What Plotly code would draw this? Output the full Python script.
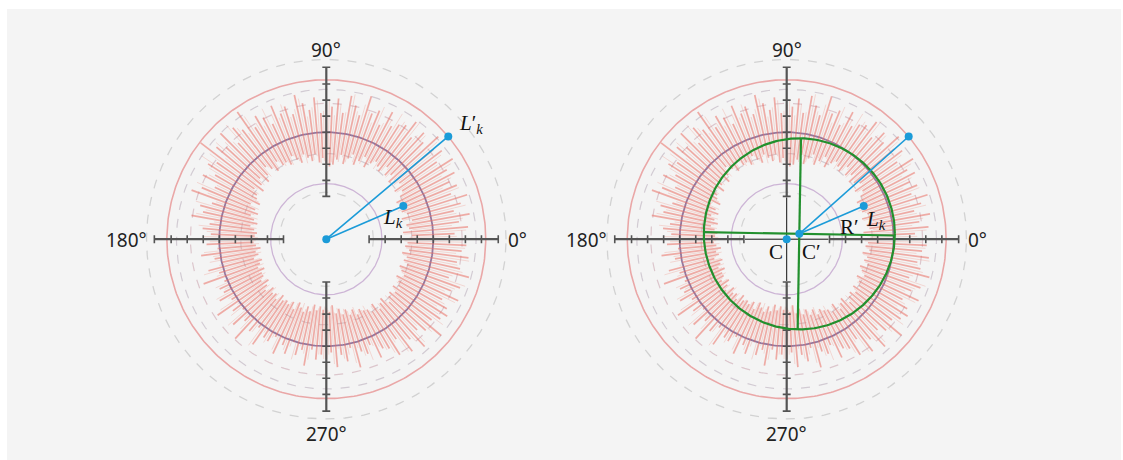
import numpy as np
import plotly.graph_objects as go

# ---------------- data (units: radius of the main purple circle = 1) ----------------
spike_angles_deg = [i * 2.5 for i in range(144)]
spike_outer = [
    1.28, 1.20, 1.33, 1.25, 1.36, 1.22, 1.30, 1.38, 1.24, 1.32, 1.27, 1.35,
    1.30, 1.40, 1.26, 1.36, 1.31, 1.42, 1.28, 1.35, 1.24, 1.38, 1.30, 1.27,
    1.22, 1.34, 1.18, 1.30, 1.25, 1.40, 1.20, 1.28, 1.36, 1.19, 1.32, 1.24,
    1.26, 1.18, 1.33, 1.22, 1.29, 1.38, 1.21, 1.30, 1.25, 1.35, 1.19, 1.28,
    1.33, 1.24, 1.45, 1.29, 1.36, 1.22, 1.40, 1.27, 1.34, 1.48, 1.25, 1.31,
    1.20, 1.30, 1.15, 1.26, 1.34, 1.12, 1.22, 1.18, 1.28, 1.10, 1.16, 1.08,
    1.04, 1.12, 1.02, 1.18, 1.06, 1.00, 1.14, 1.05, 1.22, 1.03, 1.10, 1.08,
    1.15, 1.05, 1.24, 1.10, 1.02, 1.18, 1.08, 1.26, 1.12, 1.04, 1.20, 1.09,
    1.10, 1.03, 1.18, 1.07, 1.14, 1.01, 1.12, 1.06, 1.20, 1.04, 1.13, 1.08,
    1.12, 1.06, 1.20, 1.09, 1.16, 1.04, 1.24, 1.10, 1.14, 1.07, 1.22, 1.15,
    1.18, 1.28, 1.14, 1.32, 1.22, 1.36, 1.20, 1.26, 1.40, 1.24, 1.30, 1.34,
    1.30, 1.22, 1.36, 1.26, 1.33, 1.20, 1.38, 1.28, 1.24, 1.34, 1.27, 1.31,
]
spike_inner = [
    0.74, 0.80, 0.72, 0.78, 0.76, 0.82, 0.73, 0.79, 0.75, 0.81, 0.77, 0.74,
    0.80, 0.84, 0.78, 0.86, 0.82, 0.79, 0.85, 0.81, 0.88, 0.80, 0.83, 0.86,
    0.82, 0.76, 0.85, 0.79, 0.74, 0.83, 0.78, 0.72, 0.80, 0.75, 0.70, 0.68,
    0.70, 0.76, 0.72, 0.80, 0.74, 0.78, 0.82, 0.75, 0.79, 0.84, 0.77, 0.81,
    0.80, 0.86, 0.78, 0.83, 0.88, 0.81, 0.76, 0.84, 0.79, 0.74, 0.82, 0.77,
    0.75, 0.70, 0.78, 0.72, 0.68, 0.74, 0.70, 0.66, 0.72, 0.68, 0.65, 0.67,
    0.64, 0.68, 0.66, 0.62, 0.67, 0.65, 0.70, 0.63, 0.66, 0.69, 0.64, 0.68,
    0.68, 0.72, 0.66, 0.70, 0.74, 0.67, 0.71, 0.69, 0.73, 0.66, 0.70, 0.68,
    0.70, 0.66, 0.72, 0.64, 0.68, 0.71, 0.65, 0.69, 0.62, 0.67, 0.63, 0.66,
    0.64, 0.68, 0.62, 0.70, 0.66, 0.72, 0.68, 0.74, 0.70, 0.76, 0.72, 0.75,
    0.76, 0.80, 0.74, 0.82, 0.78, 0.75, 0.83, 0.79, 0.77, 0.81, 0.76, 0.80,
    0.78, 0.74, 0.80, 0.76, 0.73, 0.79, 0.75, 0.77, 0.72, 0.78, 0.74, 0.76,
]
# fainter in-between spikes
spike2_angles_deg = [1.25 + i * 2.5 for i in range(144)]
spike2_outer = [
    1.22, 1.31, 1.18, 1.29, 1.24, 1.34, 1.20, 1.27, 1.33, 1.19, 1.30, 1.23,
    1.36, 1.25, 1.33, 1.28, 1.38, 1.22, 1.34, 1.29, 1.41, 1.26, 1.32, 1.37,
    1.28, 1.21, 1.35, 1.17, 1.26, 1.31, 1.23, 1.38, 1.20, 1.27, 1.16, 1.30,
    1.20, 1.30, 1.24, 1.16, 1.34, 1.25, 1.19, 1.33, 1.22, 1.28, 1.36, 1.21,
    1.27, 1.38, 1.23, 1.33, 1.42, 1.26, 1.31, 1.37, 1.21, 1.35, 1.40, 1.28,
    1.25, 1.14, 1.32, 1.19, 1.09, 1.27, 1.16, 1.24, 1.06, 1.20, 1.12, 1.15,
    1.09, 1.01, 1.15, 1.07, 1.11, 1.03, 1.19, 1.08, 1.00, 1.13, 1.06, 1.17,
    1.07, 1.19, 1.03, 1.14, 1.22, 1.06, 1.16, 1.01, 1.11, 1.23, 1.05, 1.13,
    1.05, 1.15, 1.02, 1.11, 1.06, 1.17, 1.03, 1.09, 1.14, 1.00, 1.08, 1.12,
    1.08, 1.17, 1.03, 1.13, 1.10, 1.19, 1.06, 1.15, 1.21, 1.09, 1.12, 1.18,
    1.24, 1.16, 1.30, 1.20, 1.27, 1.33, 1.17, 1.31, 1.23, 1.35, 1.26, 1.21,
    1.26, 1.34, 1.21, 1.29, 1.37, 1.23, 1.31, 1.25, 1.35, 1.22, 1.30, 1.27,
]
spike2_inner = [
    0.78, 0.73, 0.81, 0.76, 0.79, 0.74, 0.82, 0.77, 0.72, 0.80, 0.75, 0.79,
    0.83, 0.79, 0.87, 0.81, 0.84, 0.88, 0.80, 0.86, 0.82, 0.85, 0.79, 0.84,
    0.79, 0.84, 0.77, 0.81, 0.76, 0.80, 0.74, 0.78, 0.73, 0.77, 0.72, 0.70,
    0.73, 0.71, 0.78, 0.75, 0.79, 0.73, 0.80, 0.77, 0.83, 0.76, 0.80, 0.78,
    0.84, 0.79, 0.82, 0.86, 0.78, 0.83, 0.80, 0.77, 0.85, 0.79, 0.76, 0.80,
    0.72, 0.77, 0.69, 0.75, 0.71, 0.67, 0.73, 0.69, 0.66, 0.70, 0.67, 0.64,
    0.66, 0.63, 0.69, 0.65, 0.62, 0.68, 0.64, 0.67, 0.63, 0.66, 0.70, 0.65,
    0.70, 0.67, 0.73, 0.68, 0.71, 0.65, 0.72, 0.67, 0.70, 0.74, 0.68, 0.71,
    0.67, 0.71, 0.65, 0.69, 0.63, 0.68, 0.70, 0.64, 0.67, 0.65, 0.69, 0.63,
    0.66, 0.63, 0.69, 0.65, 0.71, 0.67, 0.70, 0.72, 0.68, 0.73, 0.74, 0.71,
    0.78, 0.75, 0.80, 0.77, 0.81, 0.79, 0.76, 0.82, 0.80, 0.78, 0.83, 0.77,
    0.75, 0.79, 0.77, 0.74, 0.80, 0.76, 0.78, 0.73, 0.79, 0.75, 0.77, 0.73,
]

# reference circles: radius, colour, dash, width
circle_radii = [1.68, 1.49, 1.40, 1.27, 1.00, 0.80, 0.52, 0.44]
circle_colors = ["#d2d2d2", "#eaa7a7", "#d2cbd3", "#dcc6cc", "#8877a4", "#d3cdd3", "#cdb5d6", "#d3d3d3"]
circle_dashes = ["dash", "solid", "dash", "dash", "solid", "dash", "solid", "dash"]
circle_widths = [1.3, 1.6, 1.2, 1.2, 1.8, 1.2, 1.3, 1.2]

axis_ticks_r = [0.40, 0.55, 0.70, 0.85, 1.00, 1.15, 1.30, 1.45, 1.607]
axis_r_min, axis_r_max = 0.40, 1.607
tick_half = 0.037

# blue points (x, y) relative to centre C
pt_Lk = (0.72, 0.31)
pt_Lpk = (1.14, 0.96)
# right panel: shifted centre C' and fitted circle radius R'
c_prime = (0.118, 0.050)
r_prime = 0.893
cross_rot_deg = -1.0

deg_labels = ["0°", "90°", "180°", "270°"]

BLUE = "#1b9bd8"
GREEN = "#22902e"
SPIKE = "rgba(233,112,100,0.55)"
SPIKE2 = "rgba(236,135,122,0.28)"
AXIS = "#545454"

fig = go.Figure()


def add_line(xs, ys, ax, color, width, dash="solid", mode="lines", **kw):
    fig.add_trace(go.Scatter(x=xs, y=ys, mode=mode, xaxis=ax[0], yaxis=ax[1],
                             line=dict(color=color, width=width, dash=dash),
                             hoverinfo="skip", showlegend=False, **kw))


def add_spikes(ax, angles, inner, outer, color, width):
    xs, ys = [], []
    for a, ri, ro in zip(angles, inner, outer):
        th = np.deg2rad(a)
        xs += [ri * np.cos(th), ro * np.cos(th), None]
        ys += [ri * np.sin(th), ro * np.sin(th), None]
    add_line(xs, ys, ax, color, width)


def base_panel(ax):
    t = np.linspace(0, 2 * np.pi, 361)
    for r, c, d, w in zip(circle_radii, circle_colors, circle_dashes, circle_widths):
        add_line(r * np.cos(t), r * np.sin(t), ax, c, w, d)
    add_spikes(ax, spike2_angles_deg, spike2_inner, spike2_outer, SPIKE2, 1.0)
    add_spikes(ax, spike_angles_deg, spike_inner, spike_outer, SPIKE, 1.7)
    xs, ys = [], []
    txs, tys = [], []
    for a in (0, 90, 180, 270):
        th = np.deg2rad(a)
        c, s = np.cos(th), np.sin(th)
        xs += [axis_r_min * c, axis_r_max * c, None]
        ys += [axis_r_min * s, axis_r_max * s, None]
        for r in axis_ticks_r:
            px, py = r * c, r * s
            txs += [px - tick_half * s, px + tick_half * s, None]
            tys += [py - tick_half * c, py + tick_half * c, None]
    add_line(xs, ys, ax, AXIS, 2.2)
    add_line(txs, tys, ax, AXIS, 1.6)


axes = [("x", "y"), ("x2", "y2")]
base_panel(axes[0])
base_panel(axes[1])

# left panel: rays from C
for p in (pt_Lpk, pt_Lk):
    add_line([0, p[0]], [0, p[1]], axes[0], BLUE, 1.6)
add_line([0, pt_Lk[0], pt_Lpk[0]], [0, pt_Lk[1], pt_Lpk[1]], axes[0], BLUE, 1,
         mode="markers", marker=dict(color=BLUE, size=8))

# right panel
ax = axes[1]
add_line([-0.39, 0.39, None, 0, 0], [0, 0, None, -0.39, 0.39], ax, "#111111", 1.0)
t = np.linspace(0, 2 * np.pi, 361)
add_line(c_prime[0] + r_prime * np.cos(t), c_prime[1] + r_prime * np.sin(t), ax, GREEN, 2.2)
rot = np.deg2rad(cross_rot_deg)
gx, gy = [], []
for a in (rot, rot + np.pi / 2):
    gx += [c_prime[0] - r_prime * np.cos(a), c_prime[0] + r_prime * np.cos(a), None]
    gy += [c_prime[1] - r_prime * np.sin(a), c_prime[1] + r_prime * np.sin(a), None]
add_line(gx, gy, ax, GREEN, 2.2)
for p in (pt_Lpk, pt_Lk):
    add_line([c_prime[0], p[0]], [c_prime[1], p[1]], ax, BLUE, 1.6)
add_line([0, c_prime[0], pt_Lk[0], pt_Lpk[0]], [0, c_prime[1], pt_Lk[1], pt_Lpk[1]], ax, BLUE, 1,
         mode="markers", marker=dict(color=BLUE, size=8))

# annotations
deg_font = dict(family="Noto Sans", size=19, color="#222222")
math_font = dict(family="Liberation Serif", size=21, color="#111111")
ann = []
for xr, yr in axes:
    group = [
        dict(x=1.68, y=-0.01, text=deg_labels[0], xanchor="left", yanchor="middle", font=deg_font),
        dict(x=0, y=1.77, text=deg_labels[1], xanchor="center", yanchor="middle", font=deg_font),
        dict(x=-1.66, y=-0.01, text=deg_labels[2], xanchor="right", yanchor="middle", font=deg_font),
        dict(x=0, y=-1.82, text=deg_labels[3], xanchor="center", yanchor="middle", font=deg_font),
    ]
    for a in group:
        a.update(xref=xr, yref=yr, showarrow=False)
    ann += group
ann += [
    dict(x=1.35, y=1.08, xref="x", yref="y", text="<i>L</i>′<sub><i>k</i></sub>", showarrow=False, font=math_font),
    dict(x=0.62, y=0.20, xref="x", yref="y", text="<i>L</i><sub><i>k</i></sub>", showarrow=False, font=math_font),
    dict(x=0.83, y=0.18, xref="x2", yref="y2", text="<i>L</i><sub><i>k</i></sub>", showarrow=False, font=math_font),
    dict(x=0.59, y=0.11, xref="x2", yref="y2", text="R′", showarrow=False, font=math_font),
    dict(x=-0.10, y=-0.12, xref="x2", yref="y2", text="C", showarrow=False, font=math_font),
    dict(x=0.23, y=-0.12, xref="x2", yref="y2", text="C′", showarrow=False, font=math_font),
]

W, H = 1123, 460
PX = 107.0
half = 2.0
def xdom(cx):
    return [(cx - half * PX) / W, (cx + half * PX) / W]
cy_from_bottom = H - 239.2
ydom = [(cy_from_bottom - half * PX) / H, (cy_from_bottom + half * PX) / H]

hidden = dict(visible=False, range=[-half, half], fixedrange=True)
fig.update_layout(
    width=W, height=H,
    margin=dict(l=0, r=0, t=0, b=0),
    paper_bgcolor="white", plot_bgcolor="rgba(0,0,0,0)",
    xaxis=dict(domain=xdom(326.3), **hidden),
    yaxis=dict(domain=ydom, **hidden),
    xaxis2=dict(domain=xdom(786.7), **hidden),
    yaxis2=dict(domain=ydom, **hidden),
    annotations=ann,
    shapes=[dict(type="rect", xref="paper", yref="paper", x0=7 / W, x1=1121 / W, y0=0, y1=(H - 9) / H,
                 fillcolor="#f4f4f4", line=dict(width=0), layer="below")],
)

fig.write_html("out.html", config={"displayModeBar": False},
               post_script="document.body.style.margin='0px';document.body.style.overflow='hidden';")
